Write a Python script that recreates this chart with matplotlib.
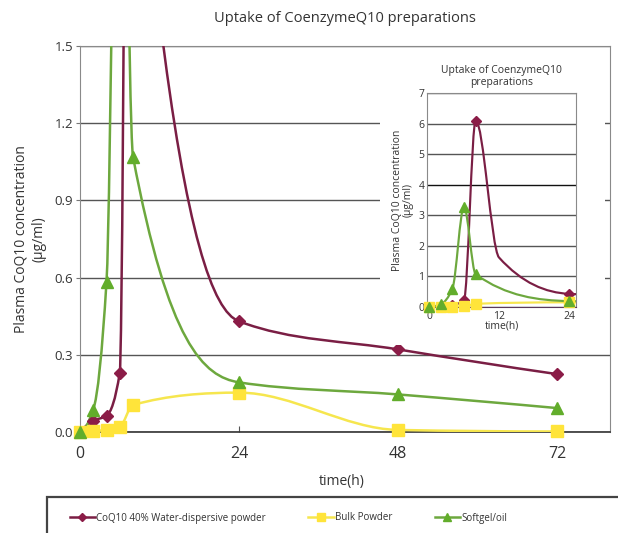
import matplotlib
matplotlib.use("Agg")
import matplotlib.pyplot as plt
import numpy as np
from matplotlib.path import Path
from matplotlib.patches import PathPatch, Rectangle
from matplotlib.lines import Line2D
from matplotlib.transforms import Bbox, TransformedBbox

plt.rcParams['font.family'] = ['Open Sans', 'DejaVu Sans']

# time points (h) and plasma CoQ10 (ug/ml)
red_time = [0, 2, 4, 6, 8, 12, 24, 48, 72]
red_conc = [0.0, 0.044, 0.063, 0.23, 6.1, 1.62, 0.43, 0.321, 0.225]
red_show = [True, True, True, True, True, False, True, True, True]

yellow_time = [0, 2, 4, 6, 8, 24, 48, 72]
yellow_conc = [0.0, 0.004, 0.008, 0.02, 0.105, 0.153, 0.008, 0.002]

green_time = [0, 2, 4, 6, 8, 24, 48, 72]
green_conc = [0.0, 0.087, 0.584, 3.28, 1.07, 0.193, 0.146, 0.093]

labels = ['CoQ10 40% Water-dispersive powder', 'Bulk Powder', 'Softgel/oil']
main_xticks = [0, 24, 48, 72]
main_yticks = [0.0, 0.3, 0.6, 0.9, 1.2, 1.5]
inset_xticks = [0, 12, 24]
inset_yticks = [0, 1, 2, 3, 4, 5, 6, 7]

RED_M, RED_L = '#8B1C47', '#7A1E44'
YEL_M, YEL_L = '#FFE43A', '#F6E64E'
GRN_M, GRN_L = '#62AD2B', '#6DA83E'
TXT = '#333333'


def smooth_path(x, y):
    # smoothed line through the points (monotone cubic, drawn as bezier segments)
    x = np.asarray(x, dtype=float)
    y = np.asarray(y, dtype=float)
    h = np.diff(x)
    d = np.diff(y) / h
    n = len(x)
    m = np.zeros(n)
    for k in range(1, n - 1):
        if d[k - 1] * d[k] > 0:
            w1 = 2 * h[k] + h[k - 1]
            w2 = h[k] + 2 * h[k - 1]
            m[k] = (w1 + w2) / (w1 / d[k - 1] + w2 / d[k])
    for k, (h0, h1, d0, d1) in [(0, (h[0], h[1], d[0], d[1])),
                                (n - 1, (h[-1], h[-2], d[-1], d[-2]))]:
        e = ((2 * h0 + h1) * d0 - h0 * d1) / (h0 + h1)
        if np.sign(e) != np.sign(d0):
            e = 0.0
        elif np.sign(d0) != np.sign(d1) and abs(e) > 3 * abs(d0):
            e = 3 * d0
        m[k] = e
    verts = [(x[0], y[0])]
    codes = [Path.MOVETO]
    for i in range(n - 1):
        verts += [(x[i] + h[i] / 3, y[i] + m[i] * h[i] / 3),
                  (x[i + 1] - h[i] / 3, y[i + 1] - m[i + 1] * h[i] / 3),
                  (x[i + 1], y[i + 1])]
        codes += [Path.CURVE4] * 3
    return Path(verts, codes)


def draw_series(ax, ms_scale=1.0):
    series = [
        (red_time, red_conc, RED_L, RED_M, 'D', 6.5, red_show),
        (yellow_time, yellow_conc, YEL_L, YEL_M, 's', 8, None),
        (green_time, green_conc, GRN_L, GRN_M, '^', 8.5, None),
    ]
    clip = TransformedBbox(Bbox([[-0.06, -0.06], [1.06, 1.0]]), ax.transAxes)
    for t, c, lc, mc, mk, ms, show in series:
        ax.add_patch(PathPatch(smooth_path(t, c), fill=False, edgecolor=lc,
                               lw=1.6 * ms_scale + 0.2, zorder=3))
        tm = np.array(t, dtype=float)
        cm = np.array(c, dtype=float)
        if show is not None:
            tm, cm = tm[np.array(show)], cm[np.array(show)]
        ln, = ax.plot(tm, cm, linestyle='none', marker=mk, ms=ms * ms_scale,
                      color=mc, mec=mc, zorder=4)
        ln.set_clip_box(clip)


fig = plt.figure(figsize=(6.18, 5.33), dpi=100)

# main chart
ax = fig.add_axes([80 / 618, 1 - 432 / 533, 530 / 618, 386 / 533])
ax.set_zorder(0)
draw_series(ax)
ax.set_xlim(0, 80)
ax.set_ylim(0, 1.5)
ax.set_xticks(main_xticks)
ax.set_yticks(main_yticks)
ax.set_yticklabels(['%.1f' % v for v in main_yticks])
ax.yaxis.grid(True, color='#555555', lw=1.0)
ax.set_axisbelow(True)
ax.tick_params(axis='x', direction='in', length=4, color='#555555', labelsize=11.5,
               labelcolor=TXT, pad=10)
ax.tick_params(axis='y', direction='out', length=3, color='#777777', labelsize=9.5,
               labelcolor=TXT, pad=2)
for side in ['left', 'top', 'right']:
    ax.spines[side].set_color('#8a8a8a')
ax.spines['bottom'].set_color('#333333')
ax.spines['bottom'].set_linewidth(1.2)

fig.text(345 / 618, 1 - 18 / 533, 'Uptake of CoenzymeQ10 preparations', ha='center',
         va='center', fontsize=10.5, color=TXT)
fig.text(30 / 618, 1 - 239 / 533, 'Plasma CoQ10 concentration\n(µg/ml)', rotation=90,
         ha='center', va='center', multialignment='center', fontsize=10, color=TXT,
         linespacing=1.2)
fig.text(342 / 618, 1 - 481 / 533, 'time(h)', ha='center', va='center', fontsize=10,
         color=TXT)

# white panel behind the inset chart
fig.add_artist(Rectangle((380 / 618, 1 - 345 / 533), 225 / 618, 290 / 533,
                         transform=fig.transFigure, facecolor='white', edgecolor='none',
                         zorder=1))

# inset chart
axi = fig.add_axes([427 / 618, 1 - 307 / 533, 149 / 618, 214 / 533])
axi.set_zorder(2)
draw_series(axi, ms_scale=0.85)
axi.set_xlim(-0.34, 25.2)
axi.set_ylim(0, 7)
axi.set_xticks(inset_xticks)
axi.set_yticks(inset_yticks)
axi.yaxis.grid(True, color='#555555', lw=1.0)
axi.get_ygridlines()[4].set_color('#111111')
axi.set_axisbelow(True)
axi.tick_params(axis='both', length=0, labelsize=7.5, labelcolor=TXT, pad=2)
axi.tick_params(axis='x', pad=3)
for side in ['left', 'top', 'right']:
    axi.spines[side].set_color('#8a8a8a')
axi.spines['bottom'].set_color('#5a3a5a')
axi.set_title('Uptake of CoenzymeQ10\npreparations', fontsize=7.5, color=TXT, pad=6,
              linespacing=1.1)
axi.set_ylabel('Plasma CoQ10 concentration\n(µg/ml)', fontsize=7.5, color=TXT,
               labelpad=3, linespacing=1.0)
axi.set_xlabel('time(h)', fontsize=7.5, color=TXT, labelpad=-1)

# legend box running off the page edge
fig.add_artist(Rectangle((47 / 618, -0.05), 1.0, 0.05 + 1 - 497 / 533,
                         transform=fig.transFigure, fill=False, edgecolor='#444444',
                         lw=1.6))
handles = [
    Line2D([], [], color=RED_L, lw=1.8, marker='D', ms=4.5, mfc=RED_M, mec=RED_M),
    Line2D([], [], color=YEL_L, lw=1.8, marker='s', ms=5.5, mfc=YEL_M, mec=YEL_M),
    Line2D([], [], color=GRN_L, lw=1.8, marker='^', ms=6, mfc=GRN_M, mec=GRN_M),
]
fig.legend(handles, labels, loc='center left', bbox_to_anchor=(61 / 618, 1 - 518 / 533),
           ncol=3, frameon=False, fontsize=7.0, handlelength=2.6, handletextpad=0.1,
           columnspacing=4.4, labelcolor=TXT)

fig.savefig('out.png', dpi=100)
